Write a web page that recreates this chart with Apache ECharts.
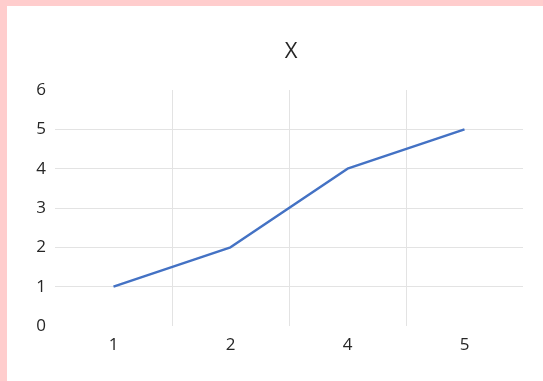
<!DOCTYPE html>
<html>
<head>
<meta charset="utf-8">
<script src="https://cdn.jsdelivr.net/npm/echarts@6/dist/echarts.min.js"></script>
<style>
  html, body { margin: 0; padding: 0; background: #ffcdcd; overflow: hidden; }
  #chart { position: absolute; left: 7px; top: 6px; width: 536px; height: 375px; background: #ffffff; }
</style>
</head>
<body>
<div id="chart"></div>
<script>
// Chart data
const categories = ['1', '2', '4', '5'];
const values = [1, 2, 4, 5];
const yTicks = { min: 0, max: 6, step: 1 };
const titleText = 'X';

const chart = echarts.init(document.getElementById('chart'), null, { renderer: 'canvas' });
const labelFont = { fontFamily: 'Open Sans', fontSize: 17, color: '#262626' };

chart.setOption({
  animation: false,
  backgroundColor: '#ffffff',
  title: {
    text: titleText,
    left: 279,
    top: 30,
    textAlign: 'center',
    textStyle: { fontFamily: 'Open Sans', fontSize: 22, fontWeight: 'normal', color: '#262626' }
  },
  grid: { left: 48, right: 20, top: 84, bottom: 55, containLabel: false },
  xAxis: {
    type: 'category',
    data: categories,
    boundaryGap: true,
    axisLine: { show: false },
    axisTick: { show: false },
    axisLabel: Object.assign({ margin: 11 }, labelFont),
    splitLine: { show: true, showMinLine: false, showMaxLine: false, lineStyle: { color: '#e3e3e3', width: 1 } }
  },
  yAxis: {
    type: 'value',
    min: yTicks.min,
    max: yTicks.max,
    interval: yTicks.step,
    axisLine: { show: false },
    axisTick: { show: false },
    axisLabel: Object.assign({ margin: 9 }, labelFont),
    splitLine: { show: true, showMinLine: false, showMaxLine: false, lineStyle: { color: '#e3e3e3', width: 1 } }
  },
  series: [{
    type: 'line',
    data: values,
    showSymbol: false,
    symbol: 'none',
    lineStyle: { color: '#4472c4', width: 2.5 },
    itemStyle: { color: '#4472c4' }
  }]
});
</script>
</body>
</html>
